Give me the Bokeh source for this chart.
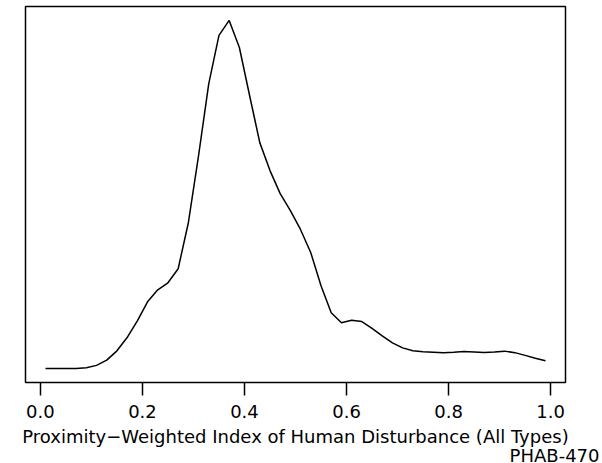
from bokeh.plotting import figure
from bokeh.models import Range1d, FixedTicker, Title
from bokeh.embed import file_html
from bokeh.resources import INLINE

# density estimate
xs = [0.01, 0.03, 0.05, 0.07, 0.09, 0.11, 0.13, 0.15, 0.17, 0.19,
      0.21, 0.23, 0.25, 0.27, 0.29, 0.31, 0.33, 0.35, 0.37, 0.39,
      0.41, 0.43, 0.45, 0.47, 0.49, 0.51, 0.53, 0.55, 0.57, 0.59,
      0.61, 0.63, 0.65, 0.67, 0.69, 0.71, 0.73, 0.75, 0.77, 0.79,
      0.81, 0.83, 0.85, 0.87, 0.89, 0.91, 0.93, 0.95, 0.97, 0.99]
density = [0.004, 0.004, 0.004, 0.005, 0.016, 0.046, 0.115, 0.238, 0.413, 0.634,
           0.884, 1.043, 1.135, 1.320, 1.927, 2.812, 3.762, 4.396, 4.594, 4.237,
           3.604, 2.983, 2.614, 2.310, 2.086, 1.835, 1.531, 1.096, 0.739, 0.607,
           0.640, 0.624, 0.535, 0.436, 0.343, 0.277, 0.238, 0.227, 0.220, 0.211,
           0.218, 0.228, 0.224, 0.216, 0.224, 0.234, 0.214, 0.178, 0.139, 0.106]
tick_values = [0.0, 0.2, 0.4, 0.6, 0.8, 1.0]
tick_labels = ["0.0", "0.2", "0.4", "0.6", "0.8", "1.0"]
x_label = "Proximity\u2212Weighted Index of Human Disturbance (All Types)"
note = "PHAB-470"

FONT = "DejaVu Sans"
FS = "18px"

W, H = 602, 463
L, T, R, B = 25, 6, 565, 382  # frame edges in canvas pixels

xmin, xmax = min(xs), max(xs)
ymin, ymax = min(density), max(density)
xpad = (xmax - xmin) * 0.04
ypad = (ymax - ymin) * 0.04
x0, x1 = xmin - xpad, xmax + xpad
y0, y1 = ymin - ypad, ymax + ypad

p = figure(width=W, height=H, output_backend="svg", toolbar_location=None,
           x_range=Range1d(x0, x1), y_range=Range1d(y0, y1),
           min_border_left=L, min_border_right=W - R, min_border_top=T, min_border_bottom=H - B)
p.background_fill_color = "white"
p.border_fill_color = "white"
p.grid.visible = False
p.outline_line_color = "black"
p.outline_line_width = 1.5
p.outline_line_alpha = 1.0
p.yaxis.visible = False

ax = p.xaxis[0]
ax.ticker = FixedTicker(ticks=tick_values)
ax.major_label_overrides = {v: s for v, s in zip(tick_values, tick_labels)}
ax.axis_line_color = None
ax.major_tick_out = 13
ax.major_tick_in = 0
ax.major_tick_line_width = 1.5
ax.major_tick_line_color = "black"
ax.minor_tick_line_color = None
ax.major_label_text_font = FONT
ax.major_label_text_font_size = FS
ax.major_label_text_color = "black"
ax.major_label_standoff = 9
ax.axis_label = x_label
ax.axis_label_text_font = FONT
ax.axis_label_text_font_size = FS
ax.axis_label_text_font_style = "normal"
ax.axis_label_text_color = "black"
ax.axis_label_standoff = 5

p.line(xs, density, line_color="black", line_width=1.5)

p.add_layout(Title(text=note, align="right", offset=-34, standoff=-13,
                   text_font=FONT, text_font_size=FS, text_font_style="normal",
                   text_color="black"), "below")

open("out.html", "w").write(file_html(p, INLINE))
